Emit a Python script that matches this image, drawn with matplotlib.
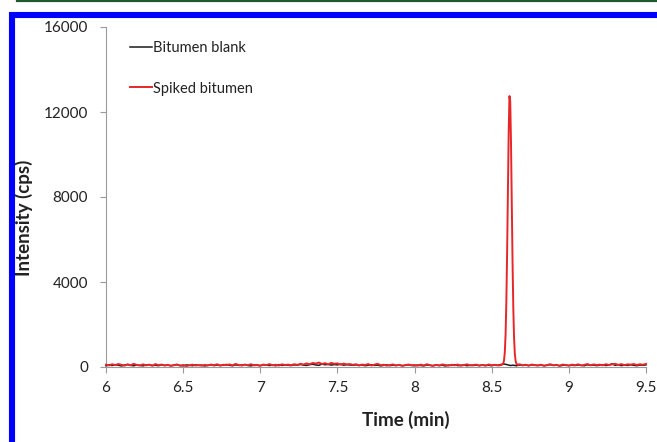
import numpy as np
import matplotlib
matplotlib.use("Agg")
import matplotlib.pyplot as plt
from matplotlib.lines import Line2D

# ---------------- data ----------------
time_grid = np.round(np.arange(6.00, 9.5001, 0.02), 3)

blank_values = [
    60, 95, 70, 110, 85, 50, 90, 120, 75, 60, 100, 80, 55, 95, 115, 70, 85, 60, 105, 75,
    90, 65, 80, 110, 70, 55, 95, 85, 60, 100, 75, 90, 50, 80, 105, 65, 95, 70, 85, 120,
    80, 60, 100, 75, 90, 115, 70, 55, 95, 80, 65, 105, 85, 70, 90, 60, 110, 75, 95, 80,
    70, 100, 85, 120, 90, 75, 110, 130, 95, 80, 140, 105, 125, 90, 115, 100, 135, 85, 110, 95,
    80, 105, 70, 95, 60, 85, 110, 75, 90, 55, 80, 100, 65, 85, 70, 95, 60, 80, 105, 75,
    60, 90, 75, 55, 95, 80, 65, 100, 70, 85, 50, 90, 75, 110, 65, 80, 95, 60, 85, 70,
    90, 65, 100, 75, 85, 60, 95, 80, 120, 140, 110, 70, 85, 60, 95, 75, 90, 65, 100, 80,
    70, 95, 60, 85, 110, 75, 90, 55, 80, 100, 65, 85, 70, 95, 80, 60, 105, 75, 90, 65,
    85, 100, 70, 95, 150, 80, 110, 65, 90, 75, 105, 85, 60, 95, 80, 100,
]

spiked_values = [
    110, 75, 130, 90, 140, 100, 65, 120, 85, 150, 95, 70, 125, 80, 105, 60, 135, 90, 115, 70,
    100, 55, 85, 120, 65, 95, 45, 80, 110, 70, 90, 60, 100, 75, 115, 85, 130, 70, 105, 90,
    120, 80, 145, 95, 70, 110, 85, 130, 75, 100, 60, 115, 90, 135, 80, 105, 70, 125, 95, 110,
    85, 130, 100, 150, 115, 170, 130, 190, 160, 210, 140, 180, 120, 195, 150, 170, 110, 160, 125, 140,
    100, 130, 80, 115, 95, 140, 70, 110, 150, 85, 105, 65, 95, 120, 75, 100, 60, 90, 115, 80,
    95, 60, 110, 75, 130, 85, 55, 100, 70, 120, 90, 65, 105, 80, 115, 60, 95, 125, 75, 90,
    110, 70, 95, 60, 120, 85, 100, 75, 90, 80, 120, 100, 110, 90, 130, 80, 105, 70, 115, 90,
    75, 105, 60, 95, 130, 80, 100, 65, 115, 85, 70, 110, 90, 125, 75, 100, 140, 85, 120, 95,
    110, 80, 130, 95, 120, 150, 100, 135, 90, 125, 110, 140, 95, 130, 105, 145,
]

peak_time = [8.565, 8.570, 8.575, 8.580, 8.585, 8.590, 8.595, 8.600, 8.605, 8.610,
             8.615, 8.620, 8.625, 8.630, 8.635, 8.640, 8.645, 8.650, 8.655, 8.660,
             8.665, 8.670]
peak_values = [110, 120, 170, 320, 710, 1560, 3130, 5480, 8360, 11040,
               12750, 12500, 10560, 7780, 4950, 2740, 1340, 610, 280, 150,
               120, 100]

series_labels = ["Bitumen blank", "Spiked bitumen"]
x_ticks = [6, 6.5, 7, 7.5, 8, 8.5, 9, 9.5]
x_tick_labels = ["6", "6.5", "7", "7.5", "8", "8.5", "9", "9.5"]
y_ticks = [0, 4000, 8000, 12000, 16000]
y_tick_labels = ["0", "4000", "8000", "12000", "16000"]

# merge spiked baseline with peak samples
spiked_time = np.concatenate([time_grid, np.array(peak_time)])
spiked_all = np.concatenate([np.array(spiked_values, float), np.array(peak_values, float)])
keep = np.concatenate([(time_grid < 8.562) | (time_grid > 8.672), np.ones(len(peak_time), bool)])
spiked_time, spiked_all = spiked_time[keep], spiked_all[keep]
order = np.argsort(spiked_time)
spiked_time, spiked_all = spiked_time[order], spiked_all[order]

# ---------------- figure ----------------
W, H = 657, 442
fig = plt.figure(figsize=(W / 100, H / 100), dpi=100)
fig.patch.set_facecolor("white")

font = "Lato"
ax = fig.add_axes([106 / W, 1 - 367 / H, (646 - 106) / W, (367 - 27) / H])

ax.plot(time_grid, blank_values, color="#1a1a1a", lw=1.1, label=series_labels[0], clip_on=False, zorder=3)
ax.plot(spiked_time, spiked_all, color="#e8262a", lw=1.4, label=series_labels[1], clip_on=False, zorder=4)

ax.set_xlim(6, 9.5)
ax.set_ylim(0, 16000)
ax.set_xticks(x_ticks)
ax.set_xticklabels(x_tick_labels)
ax.set_yticks(y_ticks)
ax.set_yticklabels(y_tick_labels)

for s in ["top", "right"]:
    ax.spines[s].set_visible(False)
for s in ["left", "bottom"]:
    ax.spines[s].set_color("#9a9a9a")
    ax.spines[s].set_linewidth(0.8)

ax.tick_params(axis="both", direction="out", color="#9a9a9a", length=4.3, width=0.8,
               labelcolor="#222222", labelsize=11)
ax.tick_params(axis="y", pad=8.5)
ax.tick_params(axis="x", pad=5.5)
for lab in ax.get_xticklabels() + ax.get_yticklabels():
    lab.set_fontfamily(font)

ax.set_xlabel("Time (min)", fontfamily=font, fontweight="bold", fontsize=13.5, color="#222222")
ax.set_ylabel("Intensity (cps)", fontfamily=font, fontweight="bold", fontsize=13.5, color="#222222")
ax.xaxis.set_label_coords(0.555, -0.128)
ax.yaxis.set_label_coords(-0.135, 0.44)

leg = ax.legend(loc="upper left", bbox_to_anchor=(0.044, 0.958), frameon=False,
                handlelength=1.5, handletextpad=0.1, labelspacing=1.8,
                borderpad=0, borderaxespad=0,
                prop={"family": font, "size": 10.5})
for t in leg.get_texts():
    t.set_color("#222222")

# decorative frame: green rule at top, blue border left/top
fig.add_artist(Line2D([17 / W, 1], [1 - 1 / H, 1 - 1 / H], transform=fig.transFigure,
                      color="#1d5a30", lw=1.6))
fig.add_artist(Line2D([12 / W, 12 / W], [0, 1 - 12 / H], transform=fig.transFigure,
                      color="#0000ff", lw=4.4, solid_capstyle="butt"))
fig.add_artist(Line2D([9 / W, 1], [1 - 15 / H, 1 - 15 / H], transform=fig.transFigure,
                      color="#0000ff", lw=4.4, solid_capstyle="butt"))

fig.savefig("out.png", dpi=100, facecolor="white")
